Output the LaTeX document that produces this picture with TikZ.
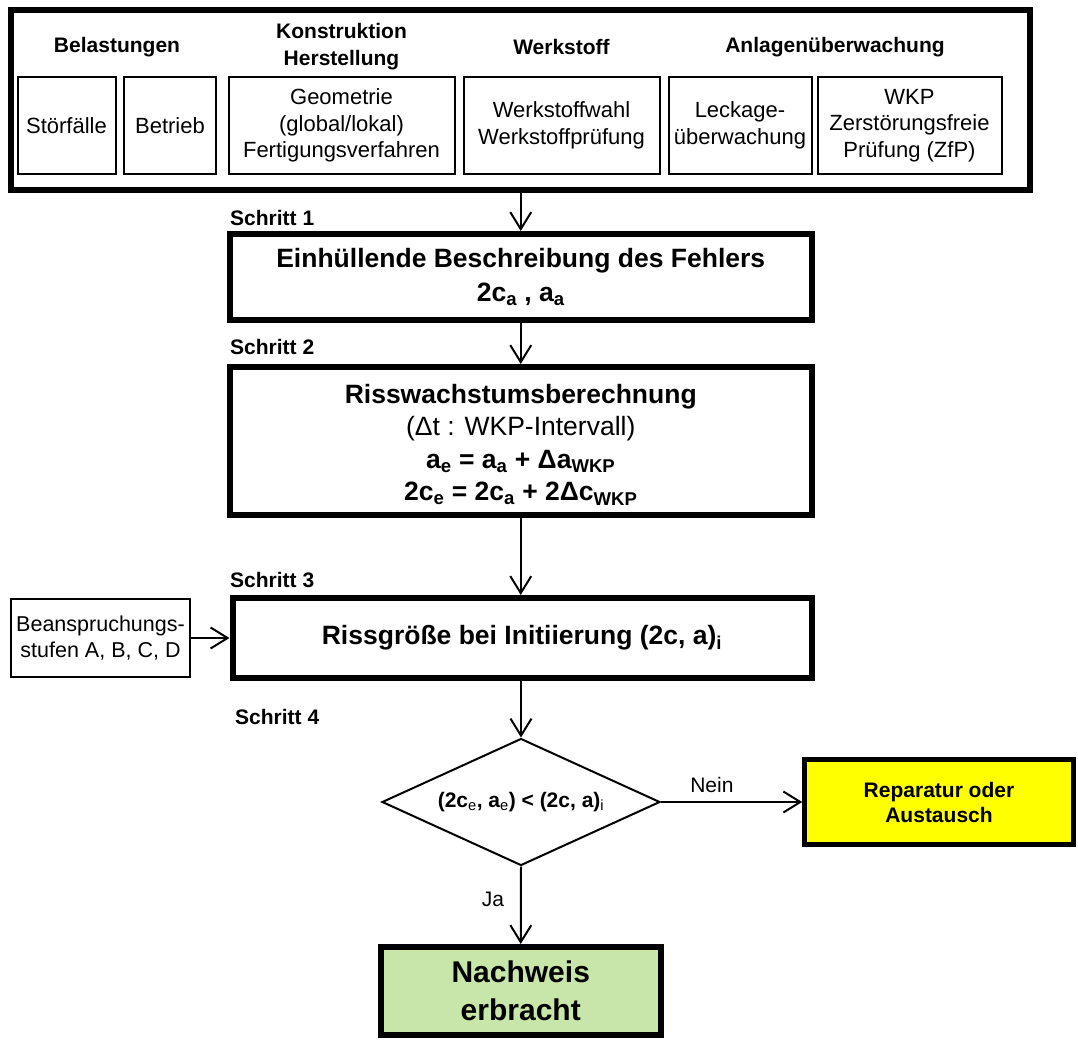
\documentclass[tikz,border=0pt]{standalone}
\usepackage{fontspec}
\setmainfont{Liberation Sans}
\usetikzlibrary{arrows.meta,shapes.geometric}
\definecolor{repyellow}{RGB}{255,255,0}
\definecolor{okgreen}{RGB}{201,230,170}

\begin{document}
\begin{tikzpicture}[x=1pt,y=-1pt,
  heavy/.style={draw, line width=6pt, inner sep=0pt, align=center},
  cell/.style={draw, line width=2pt, inner sep=0pt, align=center,
               font=\fontsize{22}{26.5}\selectfont},
  head/.style={inner sep=0pt, align=center, font=\bfseries\fontsize{21}{27}\selectfont},
  steplabel/.style={anchor=west, inner sep=0pt, font=\bfseries\fontsize{21}{25}\selectfont},
  title/.style={font=\bfseries\fontsize{26.5}{34}\selectfont},
  flow/.style={line width=2pt, -{Straight Barb[length=17pt,width=21pt]}},
  edgelabel/.style={inner sep=0pt, font=\fontsize{21}{25}\selectfont}]

\fill[white] (0,0) rectangle (1078,1041);
\useasboundingbox (0,0) rectangle (1078,1041);

% influencing factors
\node[heavy, minimum width=1019.5pt, minimum height=180pt] (top) at (520.25,100) {};
\node[head] (hBel) at (117,47) {Belastungen};
\node[head] (hKon) at (341.5,46.5) {Konstruktion\\Herstellung};
\node[head] (hWer) at (561.5,47) {Werkstoff};
\node[head] (hAnl) at (835,47) {Anlagenüberwachung};

\node[cell, minimum width=98pt,  minimum height=97pt] (stoer) at (66.5,125.5)  {Störfälle};
\node[cell, minimum width=92.5pt,minimum height=97pt] (betr)  at (170,125.5)   {Betrieb};
\node[cell, minimum width=226pt, minimum height=97pt] (geo)   at (341.5,125.5) {Geometrie\\(global/lokal)\\Fertigungsverfahren};
\node[cell, minimum width=196pt, minimum height=97pt] (wst)   at (561.5,125.5) {Werkstoffwahl\\Werkstoffprüfung};
\node[cell, minimum width=143pt, minimum height=97pt] (leck)  at (740,125.5)   {Leckage-\\überwachung};
\node[cell, minimum width=184pt, minimum height=97pt] (zfp)   at (909.5,125.5) {WKP\\Zerstörungsfreie\\Prüfung (ZfP)};

% step 1
\node[steplabel] (s1) at (230,218) {Schritt 1};
\node[heavy, title, minimum width=582.5pt, minimum height=86pt] (box1) at (520.75,277)
  {Einhüllende Beschreibung des Fehlers\\2c\textsubscript{a} , a\textsubscript{a}};

% step 2
\node[steplabel] (s2) at (230,347) {Schritt 2};
\node[heavy, font=\bfseries\fontsize{26.5}{32.5}\selectfont, minimum width=582.5pt, minimum height=148pt] (box2) at (520.75,441)
  {\rule{0pt}{26.5pt}Risswachstumsberechnung\\
   {\mdseries (Δt : WKP-Intervall)}\\
   a\textsubscript{e} = a\textsubscript{a} + Δa\textsubscript{WKP}\\
   2c\textsubscript{e} = 2c\textsubscript{a} + 2Δc\textsubscript{WKP}};

% step 3
\node[steplabel] (s3) at (230,580) {Schritt 3};
\node[heavy, title, minimum width=579pt, minimum height=80pt] (box3) at (522,638)
  {Rissgröße bei Initiierung (2c, a)\textsubscript{i}};
\node[cell, font=\fontsize{21.5}{26}\selectfont, minimum width=179pt, minimum height=78pt] (bean) at (100.5,638)
  {Beanspruchungs-\\stufen A, B, C, D};

% step 4
\node[steplabel] (s4) at (235,717) {Schritt 4};
\node[draw, diamond, aspect=2.19, line width=2pt, inner sep=0pt,
      minimum width=278pt, minimum height=127pt,
      font=\bfseries\fontsize{21}{25}\selectfont] (dia) at (521,802)
  {(2c\textsubscript{\mdseries e}, a\textsubscript{\mdseries e}) < (2c, a)\textsubscript{\mdseries i}};

\node[heavy, line width=5pt, fill=repyellow, font=\bfseries\fontsize{21}{25}\selectfont,
      minimum width=268.5pt, minimum height=85pt] (rep) at (939,802)
  {Reparatur oder\\Austausch};
\node[heavy, fill=okgreen, font=\bfseries\fontsize{30}{38}\selectfont,
      minimum width=279.5pt, minimum height=88pt] (ok) at (520.75,991)
  {Nachweis\\erbracht};

% connectors
\draw[flow] (box1.north |- top.south) -- (box1.north);
\draw[flow] (box1.south) -- (box2.north);
\draw[flow] (box2.south) -- (box2.south |- box3.north);
\draw[flow] (bean.east) -- (box3.west);
\draw[flow] (dia.north |- box3.south) -- (dia.north);
\draw[flow] (dia.east) -- node[edgelabel, pos=0.36, yshift=17pt] {Nein} (rep.west);
\draw[flow] (dia.south) -- node[edgelabel, pos=0.42, xshift=-28pt] {Ja} (ok.north);
\end{tikzpicture}
\end{document}
